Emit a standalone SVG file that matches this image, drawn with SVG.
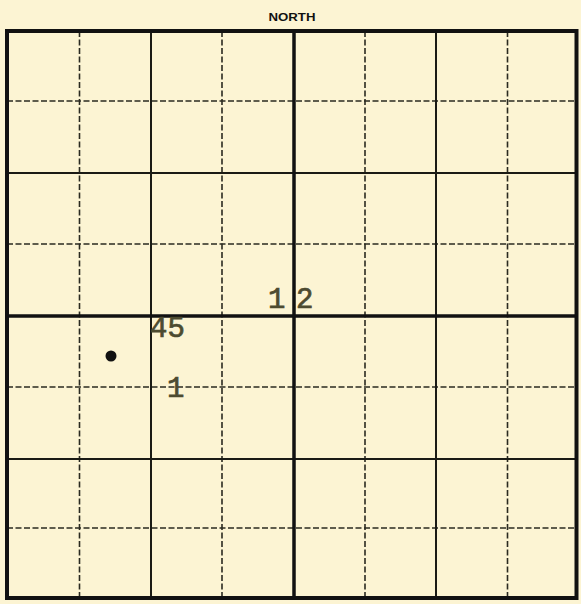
<svg xmlns="http://www.w3.org/2000/svg" width="581" height="604" viewBox="0 0 581 604">
<style>
.bg{fill:#fcf4d3}
.minor{stroke:#1a1a14;stroke-width:2;fill:none}
.dash{stroke:#2a2a20;stroke-width:1.6;stroke-dasharray:6 2.5;fill:none}
.heavy{stroke:#111;stroke-width:3.5;fill:none}
.border{stroke:#111;stroke-width:4;fill:none}
.title{font-family:"Liberation Sans",Arial,sans-serif;font-weight:bold;font-size:10px;fill:#111}
.mark{font-family:"Liberation Mono","Courier New",monospace;font-size:29px;fill:#4d4b30;stroke:#4d4b30;stroke-width:0.7}
</style>
<rect class="bg" x="0" y="0" width="581" height="604"/>
<text class="title" x="292" y="21" text-anchor="middle" textLength="47" lengthAdjust="spacingAndGlyphs">NORTH</text>
<g id="grid">
<g id="dashed">
<line class="dash" x1="79.5" y1="31" x2="79.5" y2="598"/>
<line class="dash" x1="222" y1="31" x2="222" y2="598"/>
<line class="dash" x1="365" y1="31" x2="365" y2="598"/>
<line class="dash" x1="507.5" y1="31" x2="507.5" y2="598"/>
<line class="dash" x1="7" y1="101" x2="576.5" y2="101"/>
<line class="dash" x1="7" y1="244" x2="576.5" y2="244"/>
<line class="dash" x1="7" y1="387" x2="576.5" y2="387"/>
<line class="dash" x1="7" y1="528" x2="576.5" y2="528"/>
</g>
<g id="minor">
<line class="minor" x1="151" y1="31" x2="151" y2="598"/>
<line class="minor" x1="436" y1="31" x2="436" y2="598"/>
<line class="minor" x1="7" y1="173" x2="576.5" y2="173"/>
<line class="minor" x1="7" y1="459" x2="576.5" y2="459"/>
</g>
<g id="heavy">
<line class="heavy" x1="294" y1="31" x2="294" y2="598"/>
<line class="heavy" x1="7" y1="316" x2="576.5" y2="316"/>
</g>
<rect id="border" class="border" x="7" y="31" width="569.5" height="567"/>
</g>
<g id="marks">
<text class="mark" x="268" y="308">1</text>
<text class="mark" x="296" y="308">2</text>
<text class="mark" x="150" y="337">45</text>
<text class="mark" x="167" y="397">1</text>
<circle cx="111" cy="356" r="5.5" fill="#111"/>
</g>
</svg>
